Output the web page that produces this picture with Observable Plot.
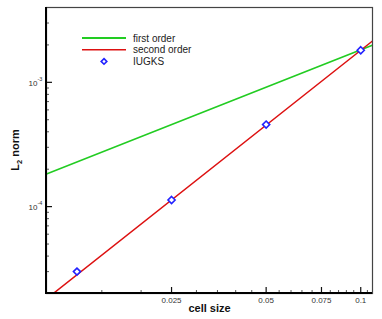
<!DOCTYPE html>
<html>
<head>
<meta charset="utf-8">
<script src="https://cdn.jsdelivr.net/npm/d3@7"></script>
<script src="https://cdn.jsdelivr.net/npm/@observablehq/plot@0.6"></script>
<style>
  html, body { margin: 0; padding: 0; background: #fff; }
  #chart { position: relative; width: 382px; height: 319px; }
  svg { font-family: "Liberation Sans", Arial, sans-serif; }
</style>
</head>
<body>
<div id="chart"></div>
<script>
// ---- data ----
const cellSize = [0.0125, 0.025, 0.05, 0.1];
const iugks = [3.0e-5, 1.13e-4, 4.57e-4, 1.81e-3];

const firstOrderX = [0.01, 0.11];
const firstOrderY = [1.83e-4, 2.01e-3];
const secondOrderX = [0.01, 0.11];
const secondOrderY = [1.81e-5, 2.19e-3];

const xMajor = [0.025, 0.05, 0.075, 0.1];
const xMajorLabels = ["0.025", "0.05", "0.075", "0.1"];
const xMinor = [0.015, 0.02, 0.03, 0.035, 0.04, 0.045, 0.055, 0.06, 0.065, 0.07,
                0.08, 0.085, 0.09, 0.095, 0.105];
const yMajor = [1e-4, 1e-3];
const yMajorExp = ["-4", "-3"];
const yMinor = [3e-5, 4e-5, 5e-5, 6e-5, 7e-5, 8e-5, 9e-5,
                2e-4, 3e-4, 4e-4, 5e-4, 6e-4, 7e-4, 8e-4, 9e-4,
                2e-3, 3e-3];

const seriesNames = ["first order", "second order", "IUGKS"];
const colors = { "first order": "#22cc22", "second order": "#dd1111", "IUGKS": "#2222ff" };

const first = firstOrderX.map((x, i) => ({ x, y: firstOrderY[i] }));
const second = secondOrderX.map((x, i) => ({ x, y: secondOrderY[i] }));
const pts = cellSize.map((x, i) => ({ x, y: iugks[i] }));
const xLab = xMajor.map((x, i) => ({ x, label: xMajorLabels[i] }));
const yLab = yMajor.map((y, i) => ({ y, exp: yMajorExp[i] }));

const W = 382, H = 319, mL = 46, mR = 10, mT = 7, mB = 26;
const fw = W - mL - mR, fh = H - mT - mB;

const plot = Plot.plot({
  width: W, height: H,
  marginLeft: mL, marginRight: mR, marginTop: mT, marginBottom: mB,
  style: { fontFamily: "Liberation Sans, Arial, sans-serif", background: "#fff" },
  x: { type: "log", domain: [0.01, 0.109], axis: null },
  y: { type: "log", domain: [2e-5, 4e-3], axis: null },
  marks: [
    Plot.line(first, { x: "x", y: "y", stroke: colors["first order"], strokeWidth: 1.5, clip: true }),
    Plot.line(second, { x: "x", y: "y", stroke: colors["second order"], strokeWidth: 1.5, clip: true }),
    Plot.dot(pts, { x: "x", y: "y", symbol: "diamond2", r: 3.2, stroke: colors["IUGKS"], fill: "white", strokeWidth: 1.6 }),
    // inward ticks
    Plot.ruleX(xMajor, { x: d => d, insetTop: fh - 6, stroke: "#111", strokeWidth: 1.2 }),
    Plot.ruleX(xMinor, { x: d => d, insetTop: fh - 3, stroke: "#555", strokeWidth: 1 }),
    Plot.ruleY(yMajor, { y: d => d, insetRight: fw - 6, stroke: "#111", strokeWidth: 1.2 }),
    Plot.ruleY(yMinor, { y: d => d, insetRight: fw - 3, stroke: "#555", strokeWidth: 1 }),
    // x tick labels
    Plot.text(xLab, { x: "x", text: "label", frameAnchor: "bottom", dy: 9, fontSize: 8, fill: "#333" }),
    // y tick labels (base "10" + exponent)
    Plot.text(yLab, { y: "y", text: () => "10", frameAnchor: "left", dx: -9, dy: 1, textAnchor: "end", fontSize: 8, fill: "#333" }),
    Plot.text(yLab, { y: "y", text: "exp", frameAnchor: "left", dx: -9, dy: -3, textAnchor: "start", fontSize: 5.5, fill: "#333" }),
    // frame
    Plot.frame({ stroke: "#444", strokeWidth: 1.2 }),
    // x axis title
    Plot.text(["cell size"], { frameAnchor: "bottom", dy: 18, fontWeight: "bold", fontSize: 11, fill: "#111" })
  ]
});
document.getElementById("chart").appendChild(plot);

const svg = d3.select(plot);
// thicker left & bottom frame edges
svg.append("line").attr("x1", mL).attr("x2", mL).attr("y1", mT).attr("y2", H - mB)
  .attr("stroke", "#000").attr("stroke-width", 2);
svg.append("line").attr("x1", mL - 1).attr("x2", W - mR).attr("y1", H - mB).attr("y2", H - mB)
  .attr("stroke", "#000").attr("stroke-width", 2);

// y axis title with subscript
const yt = svg.append("text")
  .attr("transform", `translate(19,${mT + fh / 2}) rotate(-90)`)
  .attr("text-anchor", "middle").attr("font-weight", "bold").attr("font-size", 11)
  .attr("fill", "#111");
yt.append("tspan").text("L");
yt.append("tspan").attr("font-size", 7.5).attr("dy", 3).text("2");
yt.append("tspan").attr("dy", -3).text(" norm");

// legend
const lg = svg.append("g").attr("font-family", "Liberation Sans, Arial, sans-serif")
  .attr("font-size", 10).attr("text-anchor", "start");
seriesNames.forEach((name, i) => {
  const yy = 38 + i * 11.7;
  if (name === "IUGKS") {
    lg.append("path").attr("d", d3.symbol(d3.symbolDiamond2, 3.2 * 3.2 * 2)())
      .attr("transform", `translate(104,${yy})`)
      .attr("fill", "white").attr("stroke", colors[name]).attr("stroke-width", 1.6);
  } else {
    lg.append("line").attr("x1", 82).attr("x2", 126).attr("y1", yy).attr("y2", yy)
      .attr("stroke", colors[name]).attr("stroke-width", name === "first order" ? 2 : 1.5);
  }
  lg.append("text").attr("x", 133).attr("y", yy).attr("dy", "0.35em")
    .attr("text-anchor", "start").attr("fill", "#222").text(name);
});
</script>
</body>
</html>
